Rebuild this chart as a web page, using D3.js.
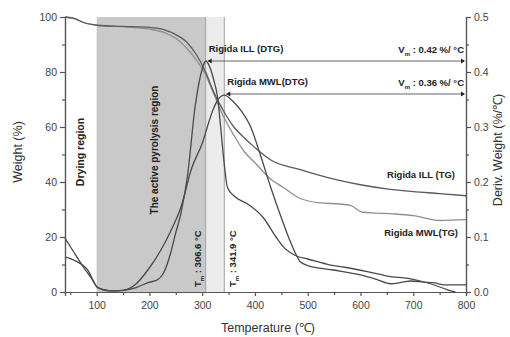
<!DOCTYPE html>
<html>
<head>
	<meta charset="utf-8">
	<script src="https://d3js.org/d3.v7.min.js"></script>
	<style>
		body { margin: 0; background: #fff; }
		svg text { font-family: 'Liberation Sans', Arial, sans-serif; fill: #333; }
		.tick text { font-size: 10.5px; fill: #444; }
		.ann { font-size: 9.5px; font-weight: bold; fill: #222; }
	</style>
</head>
<body>
<script>
	// ---- data ----
	var xTicks = [100, 200, 300, 400, 500, 600, 700, 800];
	var yLeftTicks = [0, 20, 40, 60, 80, 100];
	var yRightTicks = [0.0, 0.1, 0.2, 0.3, 0.4, 0.5];

	var tmILL = 306.6, tmMWL = 341.9;
	var vmILL = 0.42, vmMWL = 0.36;

	// TG curves (weight %)
	var tgIllT = [40, 60, 75, 90, 100, 150, 200, 230, 250, 270, 290, 306.6, 320, 340, 360, 380, 400, 430, 486, 540, 600, 650, 700, 750, 800];
	var tgIllW = [100, 99.3, 98, 97.3, 97, 96.6, 96.2, 95.2, 93.6, 91, 86, 80, 73.5, 66, 60, 56, 52.5, 48, 44.5, 41.5, 39, 37.5, 36.5, 35.8, 35];

	var tgMwlT = [40, 60, 75, 90, 100, 150, 200, 230, 250, 270, 290, 306.6, 320, 340, 360, 380, 400, 430, 454, 486, 524, 560, 581, 604, 630, 662, 700, 751, 800];
	var tgMwlW = [100, 99.3, 98, 97.3, 97, 96.5, 95.6, 94.2, 92.3, 88.8, 84, 79, 73, 64, 57, 51, 47, 41, 38, 34, 32.4, 32, 31.5, 29, 28.7, 28.4, 27.8, 26, 26.3];

	// DTG curves (%/°C)
	var dtgIllT = [40, 57, 83, 102, 126, 150, 175, 197, 215, 227, 240, 250, 259, 272, 287, 300, 306.6, 316, 322, 329, 335, 341, 348, 360, 386, 416, 440, 454, 480, 500, 543, 570, 613, 651, 695, 733, 765, 780];
	var dtgIllV = [0.064, 0.058, 0.04, 0.008, 0.002, 0.003, 0.008, 0.017, 0.022, 0.035, 0.07, 0.108, 0.14, 0.21, 0.34, 0.405, 0.42, 0.405, 0.385, 0.355, 0.3, 0.24, 0.19, 0.175, 0.16, 0.135, 0.1, 0.082, 0.065, 0.06, 0.049, 0.045, 0.037, 0.029, 0.024, 0.015, 0.004, 0];

	var dtgMwlT = [40, 55, 75, 90, 102, 125, 150, 175, 197, 221, 240, 260, 280, 300, 320, 330, 341.9, 360, 375, 392, 410, 430, 450, 470, 486, 500, 549, 600, 630, 657, 680, 695, 720, 738, 757, 800];
	var dtgMwlV = [0.098, 0.075, 0.045, 0.025, 0.008, 0.002, 0.003, 0.015, 0.04, 0.075, 0.11, 0.155, 0.225, 0.27, 0.33, 0.35, 0.358, 0.345, 0.328, 0.3, 0.25, 0.19, 0.135, 0.085, 0.055, 0.048, 0.04, 0.031, 0.023, 0.015, 0.018, 0.02, 0.018, 0.017, 0.013, 0.013];

	// ---- layout ----
	var w = 510, h = 337;
	var x = d3.scaleLinear().domain([40, 800]).range([65, 466]);
	var yL = d3.scaleLinear().domain([0, 100]).range([292, 17]);
	var yR = d3.scaleLinear().domain([0, 0.5]).range([292, 17]);

	var svg = d3.select('body').append('svg')
		.attr('width', w)
		.attr('height', h);

	// shaded regions
	svg.append('rect')
		.attr('x', x(100)).attr('y', yL(100))
		.attr('width', x(tmILL) - x(100)).attr('height', yL(0) - yL(100))
		.attr('fill', '#c9c9c9');
	svg.append('rect')
		.attr('x', x(tmILL)).attr('y', yL(100))
		.attr('width', x(tmMWL) - x(tmILL)).attr('height', yL(0) - yL(100))
		.attr('fill', '#ececec');
	[tmILL, tmMWL].forEach(function (t) {
		svg.append('line')
			.attr('x1', x(t)).attr('x2', x(t))
			.attr('y1', yL(100)).attr('y2', yL(0))
			.attr('stroke', '#a0a0a0').attr('stroke-width', 1);
	});

	// curves
	function draw(ts, vs, sc, color) {
		var pts = ts.map(function (t, i) { return [t, vs[i]]; });
		svg.append('path')
			.datum(pts)
			.attr('fill', 'none')
			.attr('stroke', color)
			.attr('stroke-width', 1.3)
			.attr('d', d3.line()
				.x(function (d) { return x(d[0]); })
				.y(function (d) { return sc(d[1]); })
				.curve(d3.curveMonotoneX));
	}
	draw(tgMwlT, tgMwlW, yL, '#8f8f8f');
	draw(tgIllT, tgIllW, yL, '#5a5a5a');
	draw(dtgMwlT, dtgMwlV, yR, '#4a4a4a');
	draw(dtgIllT, dtgIllV, yR, '#4a4a4a');

	// axes
	svg.append('g').attr('transform', 'translate(0,' + yL(0) + ')')
		.call(d3.axisBottom(x).tickValues(xTicks).tickSize(4).tickPadding(6));
	svg.append('g').attr('transform', 'translate(0,' + yL(0) + ')')
		.call(d3.axisBottom(x).tickValues(d3.range(50, 800, 100)).tickSize(3).tickFormat(''));
	svg.append('g').attr('transform', 'translate(' + x(40) + ',0)')
		.call(d3.axisLeft(yL).tickValues(yLeftTicks).tickSize(5).tickPadding(3));
	svg.append('g').attr('transform', 'translate(' + x(40) + ',0)')
		.call(d3.axisLeft(yL).tickValues(d3.range(10, 100, 20)).tickSize(3).tickFormat(''));
	svg.append('g').attr('transform', 'translate(' + x(800) + ',0)')
		.call(d3.axisRight(yR).tickValues(yRightTicks).tickSize(5).tickPadding(3).tickFormat(d3.format('.1f')));
	svg.append('g').attr('transform', 'translate(' + x(800) + ',0)')
		.call(d3.axisRight(yR).tickValues(d3.range(0.05, 0.5, 0.1)).tickSize(3).tickFormat(''));
	svg.selectAll('.domain, .tick line').attr('stroke', '#555').attr('stroke-width', 1.2);

	// axis titles
	svg.append('text').text('Temperature (℃)')
		.attr('x', 268).attr('y', 332).attr('text-anchor', 'middle')
		.style('font-size', '12.5px');
	svg.append('text').text('Weight (%)')
		.attr('transform', 'translate(22,152) rotate(-90)').attr('text-anchor', 'middle')
		.style('font-size', '12.5px');
	svg.append('text').text('Deriv. Weight (%/℃)')
		.attr('transform', 'translate(502,150) rotate(-90)').attr('text-anchor', 'middle')
		.style('font-size', '12.5px');

	// region labels
	svg.append('text').attr('class', 'ann').text('Drying region')
		.attr('transform', 'translate(' + (x(70) + 3) + ',152) rotate(-90)').attr('text-anchor', 'middle')
		.style('font-size', '10.5px');
	svg.append('text').attr('class', 'ann').text('The active pyrolysis region')
		.attr('transform', 'translate(' + (x(210) + 3) + ',150) rotate(-90)').attr('text-anchor', 'middle')
		.style('font-size', '10px');

	function tmLabel(t, xp) {
		var tx = svg.append('text').attr('class', 'ann')
			.attr('transform', 'translate(' + xp + ',' + 287 + ') rotate(-90)');
		tx.append('tspan').text('T');
		tx.append('tspan').text('m').attr('baseline-shift', 'sub').style('font-size', '6px');
		tx.append('tspan').text(' : ' + t + ' °C');
	}
	tmLabel(tmILL.toFixed(1), x(tmILL) - 5);
	tmLabel(tmMWL.toFixed(1), x(tmMWL) + 12);

	// peak annotations
	function peak(t, v, name) {
		var py = yR(v);
		svg.append('line')
			.attr('x1', x(t) + 2).attr('x2', x(800) - 2)
			.attr('y1', py).attr('y2', py)
			.attr('stroke', '#666').attr('stroke-width', 1);
		svg.append('path')
			.attr('d', 'M' + (x(t) + 2) + ',' + py + 'l4,-2.5v5z').attr('fill', '#222');
		svg.append('path')
			.attr('d', 'M' + (x(800) - 1) + ',' + py + 'l-4,-2.5v5z').attr('fill', '#222');
		svg.append('text').attr('class', 'ann').text(name)
			.attr('x', x(t) + 3).attr('y', py - 9);
		var vt = svg.append('text').attr('class', 'ann')
			.attr('x', x(800) - 2).attr('y', py - 8).attr('text-anchor', 'end');
		vt.append('tspan').text('V');
		vt.append('tspan').text('m').attr('baseline-shift', 'sub').style('font-size', '6px');
		vt.append('tspan').text(' : ' + v.toFixed(2) + ' %/ °C');
	}
	peak(tmILL, vmILL, 'Rigida ILL (DTG)');
	peak(tmMWL, vmMWL, 'Rigida MWL(DTG)');

	svg.append('text').attr('class', 'ann').text('Rigida ILL (TG)')
		.attr('x', 455).attr('y', 178).attr('text-anchor', 'end');
	svg.append('text').attr('class', 'ann').text('Rigida MWL(TG)')
		.attr('x', 458).attr('y', 236).attr('text-anchor', 'end');
</script>
</body>
</html>
